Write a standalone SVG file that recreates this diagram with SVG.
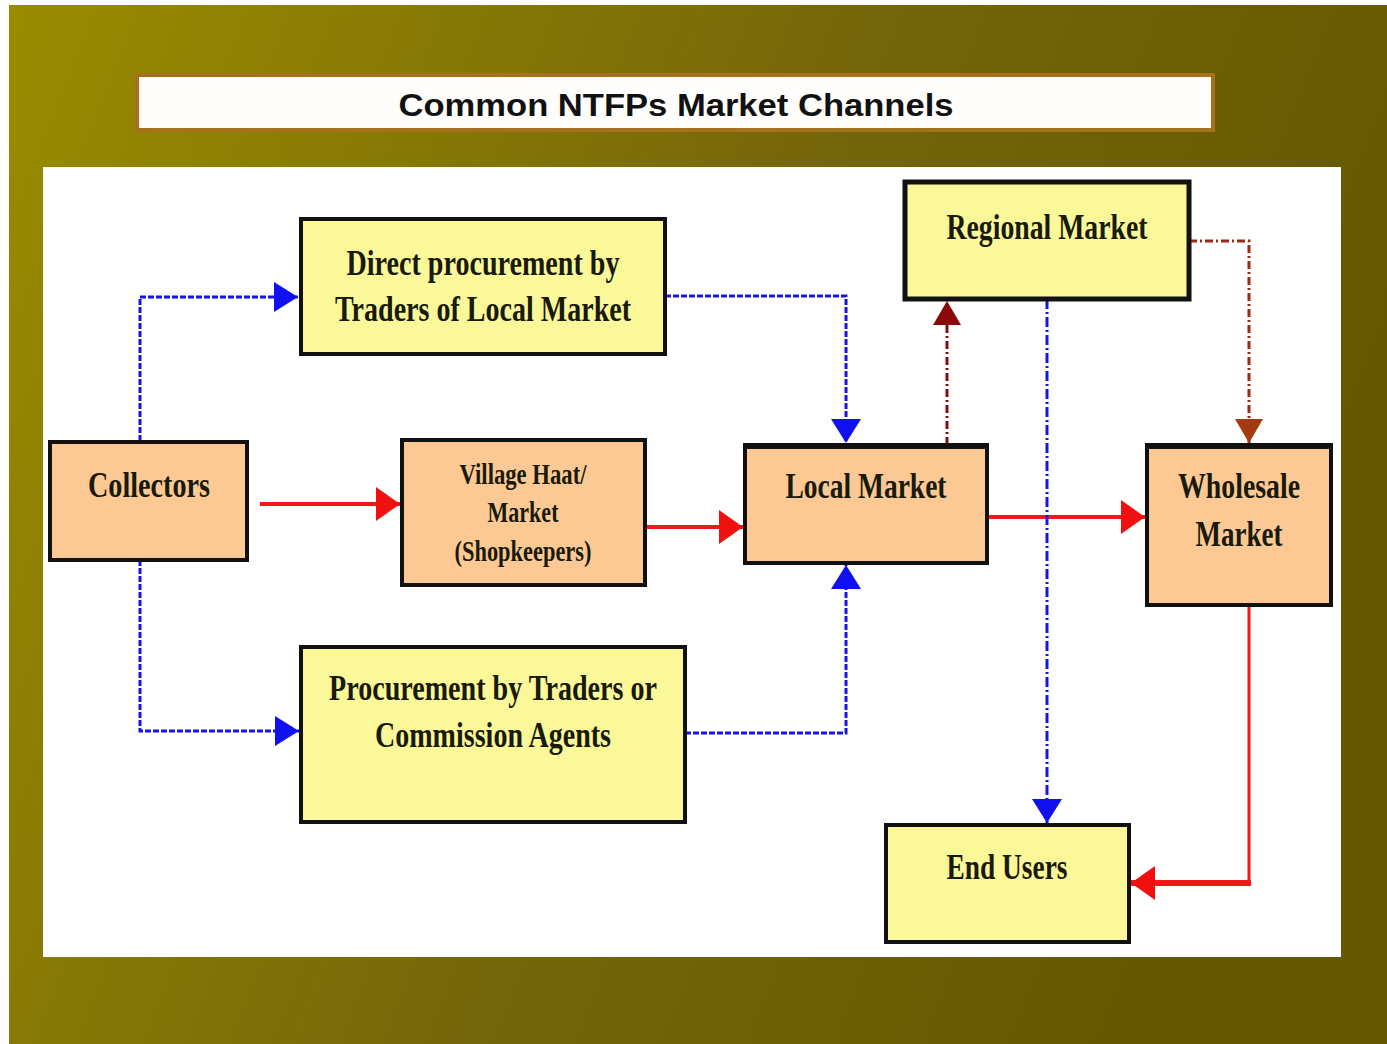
<svg xmlns="http://www.w3.org/2000/svg" width="1387" height="1044" viewBox="0 0 1387 1044">
<style>
.box{stroke:#111;stroke-width:4}
.y{fill:#fbf89a}
.p{fill:#fcc995}
.t{font-family:"Liberation Serif",serif;font-weight:bold;fill:#1a1a0a;text-anchor:middle}
.b{fill:none;stroke:#1414e6;stroke-width:3;stroke-dasharray:6 2}
.bd{fill:none;stroke:#1414e6;stroke-width:3;stroke-dasharray:10 3 2 3}
.r{fill:none;stroke:#f01818;stroke-width:4}
.dr{fill:none;stroke:#8a0c0c;stroke-width:3;stroke-dasharray:8 3 2 3}
.br{fill:none;stroke:#9a2a10;stroke-width:3;stroke-dasharray:8 3 2 3}
</style>
<defs>
<linearGradient id="bg" x1="0" y1="0" x2="1" y2="0.3">
<stop offset="0" stop-color="#9a8c00"/>
<stop offset="0.6" stop-color="#73650a"/>
<stop offset="1" stop-color="#665800"/>
</linearGradient>
<marker id="ab" markerUnits="userSpaceOnUse" markerWidth="26" markerHeight="30" refX="24" refY="15" orient="auto"><path d="M0,0 L24,15 L0,30 Z" fill="#1010f0"/></marker>
<marker id="ar" markerUnits="userSpaceOnUse" markerWidth="26" markerHeight="34" refX="24" refY="17" orient="auto"><path d="M0,0 L24,17 L0,34 Z" fill="#f01010"/></marker>
<marker id="adr" markerUnits="userSpaceOnUse" markerWidth="26" markerHeight="28" refX="24" refY="14" orient="auto"><path d="M0,0 L24,14 L0,28 Z" fill="#8a0808"/></marker>
<marker id="abr" markerUnits="userSpaceOnUse" markerWidth="26" markerHeight="28" refX="24" refY="14" orient="auto"><path d="M0,0 L24,14 L0,28 Z" fill="#a33a10"/></marker>
</defs>
<rect x="0" y="0" width="1387" height="1044" fill="#fff"/>
<rect x="9" y="5" width="1378" height="1039" fill="url(#bg)"/>
<g id="title">
<rect x="137" y="75" width="1076" height="55" fill="#fffefc" stroke="#a8701c" stroke-width="4"/>
<text x="676" y="116" font-family="Liberation Sans,Arial,sans-serif" font-weight="bold" font-size="31" text-anchor="middle" fill="#111" textLength="555" lengthAdjust="spacingAndGlyphs">Common NTFPs Market Channels</text>
</g>
<rect x="43" y="167" width="1298" height="790" fill="#fff"/>
<g id="connectors">
<polyline class="b" points="140,441 140,297 298,297" marker-end="url(#ab)"/>
<polyline class="b" points="140,560 140,731 299,731" marker-end="url(#ab)"/>
<polyline class="b" points="665,296 846,296 846,443" marker-end="url(#ab)"/>
<polyline class="b" points="685,733 846,733 846,565" marker-end="url(#ab)"/>
<line class="r" x1="260" y1="504" x2="400" y2="504" marker-end="url(#ar)"/>
<line class="r" x1="645" y1="527" x2="743" y2="527" marker-end="url(#ar)"/>
<line class="r" x1="987" y1="517" x2="1145" y2="517" marker-end="url(#ar)"/>
<polyline class="dr" points="947,445 947,301" marker-end="url(#adr)"/>
<polyline class="br" points="1189,241 1249,241 1249,443" marker-end="url(#abr)"/>
<polyline class="bd" points="1047,299 1047,823" marker-end="url(#ab)"/>
<polyline fill="none" stroke="#f01818" stroke-width="3" points="1249,605 1249,883"/>
<polyline class="r" style="stroke-width:6" points="1251,883 1131,883" marker-end="url(#ar)"/>
</g>
<g id="direct">
<rect class="box y" x="301" y="219" width="364" height="135"/>
<text class="t" font-size="36" x="483" y="275" textLength="273" lengthAdjust="spacingAndGlyphs">Direct procurement by</text>
<text class="t" font-size="36" x="483" y="321" textLength="296" lengthAdjust="spacingAndGlyphs">Traders of Local Market</text>
</g>
<g id="regional">
<rect class="box y" x="905" y="182" width="284" height="117" style="stroke-width:5"/>
<text class="t" font-size="36" x="1047" y="239" textLength="201" lengthAdjust="spacingAndGlyphs">Regional Market</text>
</g>
<g id="collectors">
<rect class="box p" x="50" y="442" width="197" height="118"/>
<text class="t" font-size="36" x="149" y="497" textLength="122" lengthAdjust="spacingAndGlyphs">Collectors</text>
</g>
<g id="village">
<rect class="box p" x="402" y="440" width="243" height="145"/>
<text class="t" font-size="30" x="523" y="484" textLength="127" lengthAdjust="spacingAndGlyphs">Village Haat/</text>
<text class="t" font-size="30" x="523" y="522" textLength="71" lengthAdjust="spacingAndGlyphs">Market</text>
<text class="t" font-size="30" x="523" y="561" textLength="137" lengthAdjust="spacingAndGlyphs">(Shopkeepers)</text>
</g>
<g id="local">
<rect class="box p" x="745" y="446" width="242" height="117"/>
<line x1="743" y1="446" x2="989" y2="446" stroke="#111" stroke-width="6"/>
<text class="t" font-size="36" x="866" y="498" textLength="161" lengthAdjust="spacingAndGlyphs">Local Market</text>
</g>
<g id="wholesale">
<rect class="box p" x="1147" y="446" width="184" height="159"/>
<line x1="1145" y1="446" x2="1333" y2="446" stroke="#111" stroke-width="6"/>
<text class="t" font-size="36" x="1239" y="498" textLength="122" lengthAdjust="spacingAndGlyphs">Wholesale</text>
<text class="t" font-size="36" x="1239" y="546" textLength="87" lengthAdjust="spacingAndGlyphs">Market</text>
</g>
<g id="procurement">
<rect class="box y" x="301" y="647" width="384" height="175"/>
<text class="t" font-size="36" x="493" y="700" textLength="328" lengthAdjust="spacingAndGlyphs">Procurement by Traders or</text>
<text class="t" font-size="36" x="493" y="747" textLength="236" lengthAdjust="spacingAndGlyphs">Commission Agents</text>
</g>
<g id="endusers">
<rect class="box y" x="886" y="825" width="243" height="117"/>
<text class="t" font-size="36" x="1007" y="879" textLength="121" lengthAdjust="spacingAndGlyphs">End Users</text>
</g>
</svg>
